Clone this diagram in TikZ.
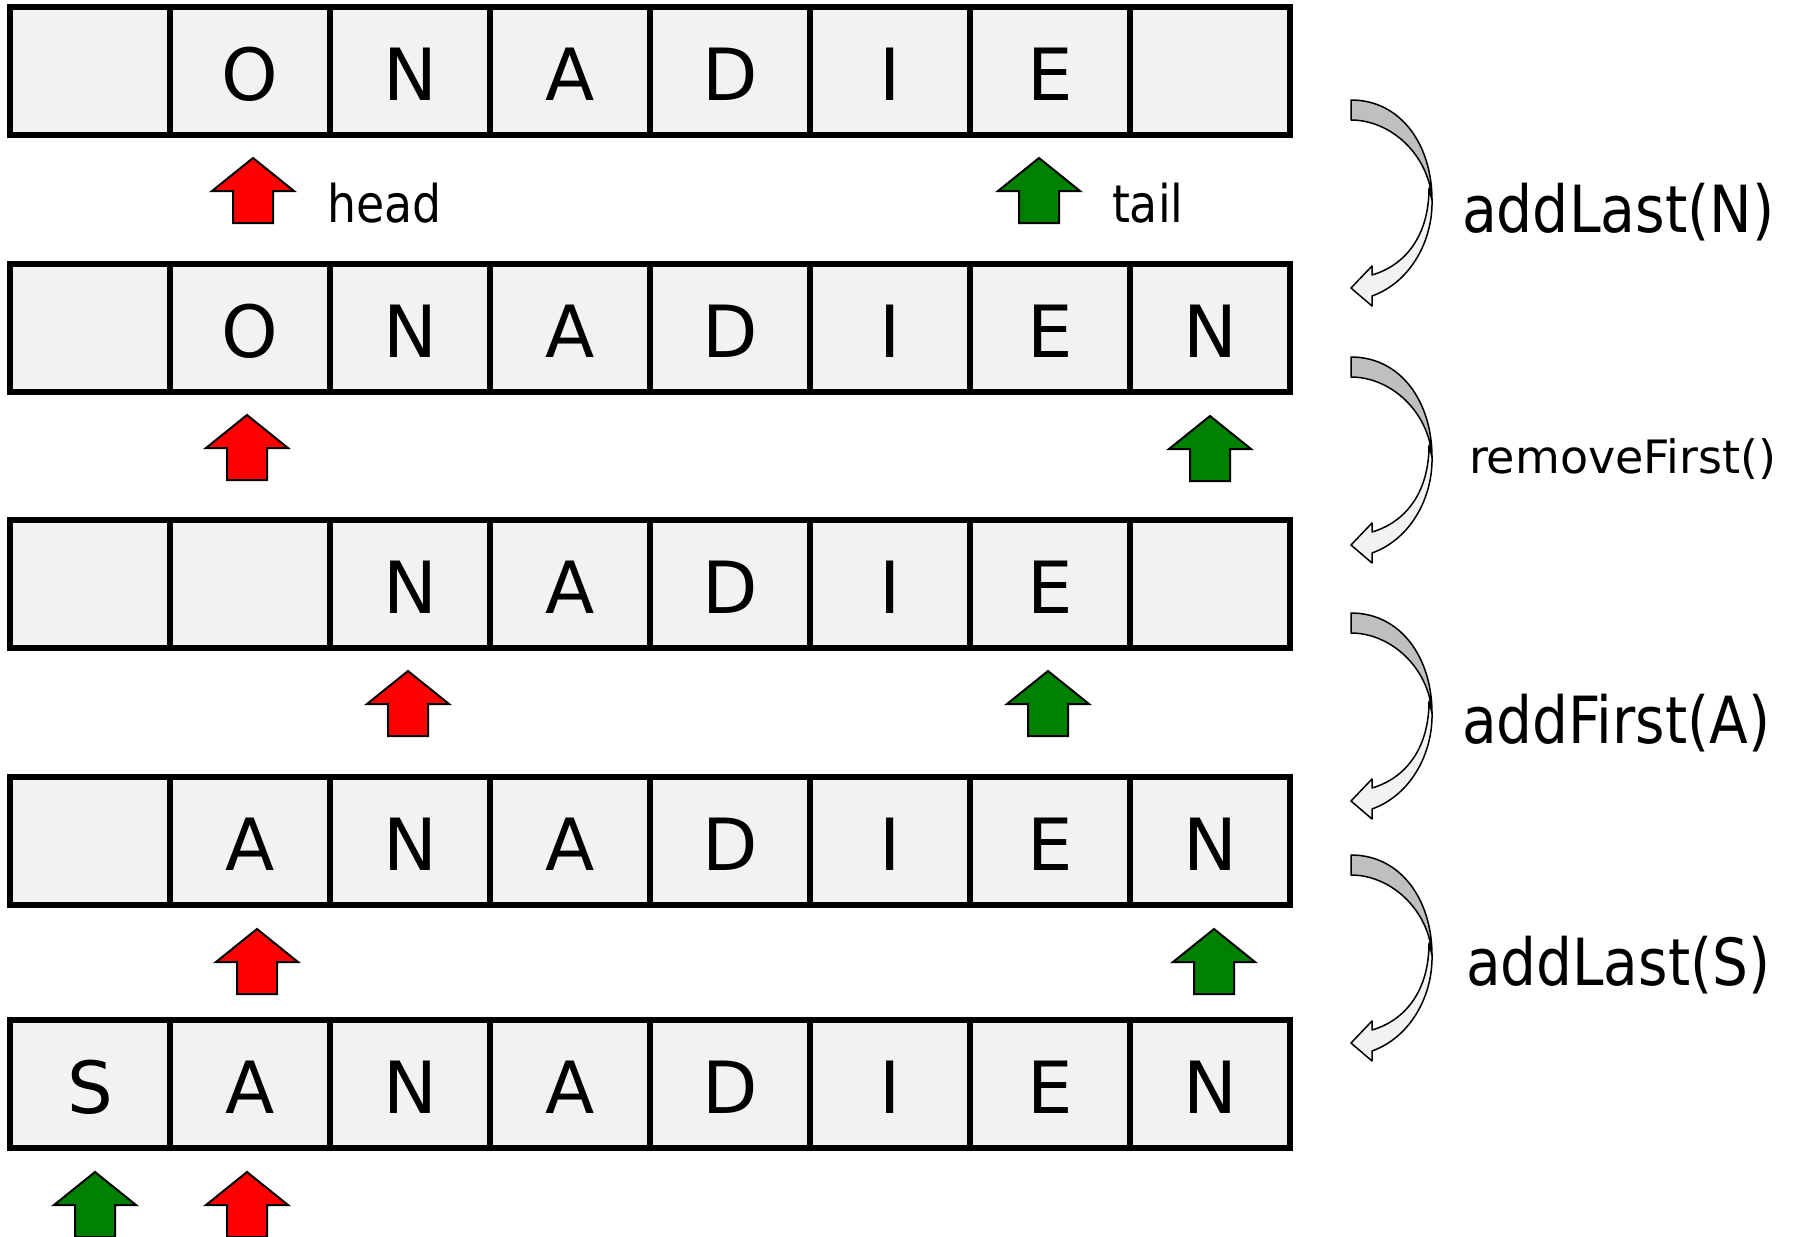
\documentclass[tikz,border=0pt]{standalone}
\usepackage{fontspec}
\setmainfont{DejaVu Sans}
\usepackage{graphicx}
\definecolor{cellfill}{HTML}{F2F2F2}
\definecolor{headred}{HTML}{FF0000}
\definecolor{tailgreen}{HTML}{008000}
\definecolor{bandgray}{HTML}{BFBFBF}
\definecolor{bandlight}{HTML}{F2F2F2}
\tikzset{
  cell/.style={draw=black, fill=cellfill, line width=6pt, minimum width=160pt,
    minimum height=128pt, inner sep=0pt, outer sep=0pt, text height=58pt,
    text depth=0pt, font=\fontsize{72}{80}\selectfont},
  lbl/.style={inner sep=0pt, outer sep=0pt, anchor=base west},
  arrowline/.style={draw=black, line width=2pt, line join=miter},
  bandline/.style={draw=black, line width=1.5pt, line join=round},
  pics/uparrow/.style={code={
    \draw[arrowline, fill=#1] (0,0) -- (41,33) -- (20,33) -- (20,65) -- (-20,65)
      -- (-20,33) -- (-41,33) -- cycle;}},
  pics/turnarrow/.style={code={
    \draw[bandline, fill=bandlight] (78,88) .. controls (78,135) and (55,165) .. (21,175)
      -- (21,166) -- (0,188) -- (21,206) -- (21,196)
      .. controls (60,182) and (82,140) .. (81,100) -- cycle;
    \draw[bandline, fill=bandgray] (0,0) .. controls (50,0) and (81,45) .. (81,100)
      .. controls (78,55) and (40,20) .. (0,20) -- cycle;}}
}
\begin{document}
\begin{tikzpicture}[x=1pt,y=-1pt]
\useasboundingbox (0,0) rectangle (1794,1237);
% rows of cells
\foreach \l [count=\c] in {{},O,N,A,D,I,E,{}}
  \node[cell] (r1c\c) at ({160*\c-70},71) {\l};
\foreach \l [count=\c] in {{},O,N,A,D,I,E,N}
  \node[cell] (r2c\c) at ({160*\c-70},328) {\l};
\foreach \l [count=\c] in {{},{},N,A,D,I,E,{}}
  \node[cell] (r3c\c) at ({160*\c-70},584) {\l};
\foreach \l [count=\c] in {{},A,N,A,D,I,E,N}
  \node[cell] (r4c\c) at ({160*\c-70},841) {\l};
\foreach \l [count=\c] in {S,A,N,A,D,I,E,N}
  \node[cell] (r5c\c) at ({160*\c-70},1084) {\l};
% head / tail pointers
\pic at (253,158) {uparrow=headred};
\pic at (1039,158) {uparrow=tailgreen};
\node[lbl, font=\fontsize{52}{60}\selectfont] (headlbl) at (327,222) {\scalebox{0.88}[1]{head}};
\node[lbl, font=\fontsize{52}{60}\selectfont] (taillbl) at (1112,222) {\scalebox{0.88}[1]{tail}};
\pic at (247,415) {uparrow=headred};
\pic at (1210,416) {uparrow=tailgreen};
\pic at (408,671) {uparrow=headred};
\pic at (1048,671) {uparrow=tailgreen};
\pic at (257,929) {uparrow=headred};
\pic at (1214,929) {uparrow=tailgreen};
\pic at (95,1172) {uparrow=tailgreen};
\pic at (247,1172) {uparrow=headred};
% curved arrows
\pic at (1351,100) {turnarrow};
\pic at (1351,357) {turnarrow};
\pic at (1351,613) {turnarrow};
\pic at (1351,855) {turnarrow};
% operation labels
\node[lbl, font=\fontsize{65}{72}\selectfont] (op1) at (1462,232) {\scalebox{0.875}[1]{addLast(N)}};
\node[lbl, font=\fontsize{46}{54}\selectfont] (op2) at (1469,473) {removeFirst()};
\node[lbl, font=\fontsize{65}{72}\selectfont] (op3) at (1462,743) {\scalebox{0.87}[1]{addFirst(A)}};
\node[lbl, font=\fontsize{65}{72}\selectfont] (op4) at (1466,985) {\scalebox{0.87}[1]{addLast(S)}};
\end{tikzpicture}
\end{document}
